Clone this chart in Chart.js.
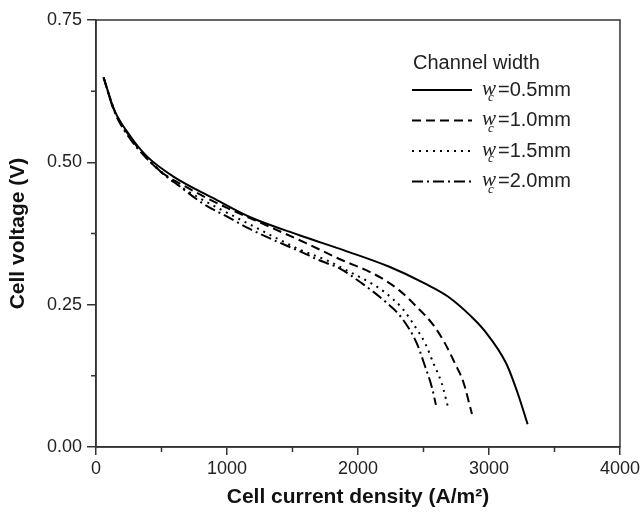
<!DOCTYPE html>
<html>
<head>
<meta charset="utf-8">
<script src="https://cdn.jsdelivr.net/npm/chart.js@4.4.1/dist/chart.umd.min.js"></script>
<style>
  html, body { margin: 0; padding: 0; background: #fff; }
  canvas { display: block; }
</style>
</head>
<body>
<canvas id="chart" width="643" height="512"></canvas>
<script>
// valores
const widths = ['0.5', '1.0', '1.5', '2.0'];

const current05 = [58, 139, 265, 391, 591, 896, 1174, 1553, 1900, 2235, 2513, 2689, 2866, 2967, 3131, 3220, 3295];
const voltage05 = [0.649, 0.592, 0.545, 0.510, 0.475, 0.437, 0.404, 0.372, 0.345, 0.317, 0.287, 0.264, 0.229, 0.204, 0.147, 0.094, 0.040];

const current10 = [58, 139, 265, 467, 694, 1000, 1225, 1604, 1880, 2058, 2184, 2311, 2449, 2576, 2664, 2740, 2803, 2870];
const voltage10 = [0.649, 0.592, 0.543, 0.489, 0.456, 0.420, 0.397, 0.358, 0.328, 0.311, 0.296, 0.276, 0.246, 0.214, 0.182, 0.147, 0.115, 0.058];

const current15 = [58, 139, 265, 568, 770, 1098, 1402, 1553, 1780, 1932, 2083, 2197, 2336, 2437, 2513, 2576, 2639, 2685];
const voltage15 = [0.649, 0.592, 0.541, 0.470, 0.440, 0.400, 0.364, 0.347, 0.326, 0.308, 0.290, 0.273, 0.244, 0.211, 0.182, 0.147, 0.112, 0.072];

const current20 = [58, 139, 265, 492, 644, 820, 998, 1174, 1351, 1553, 1705, 1856, 2033, 2210, 2336, 2449, 2513, 2563, 2595];
const voltage20 = [0.649, 0.590, 0.540, 0.484, 0.457, 0.427, 0.405, 0.383, 0.364, 0.344, 0.328, 0.314, 0.287, 0.255, 0.226, 0.182, 0.141, 0.106, 0.074];

const xMajor = [0, 1000, 2000, 3000, 4000];
const xMinor = [500, 1500, 2500, 3500];
const yMajor = [0, 0.25, 0.5, 0.75];
const yMinor = [0.125, 0.375, 0.625];

const dashes = [[], [9, 5], [2, 5], [11, 4, 2, 4]];

function pts(xs, ys) {
    return xs.map((x, i) => ({ x: x, y: ys[i] }));
}

const series = [
    pts(current05, voltage05),
    pts(current10, voltage10),
    pts(current15, voltage15),
    pts(current20, voltage20)
];

const sans = '"Liberation Sans", Arial, sans-serif';
const axisColor = '#333';

// marco, ticks menores y leyenda
const extras = {
    id: 'extras',
    afterDraw(chart) {
        const ctx = chart.ctx;
        const a = chart.chartArea;
        const xs = chart.scales.x;
        const ys = chart.scales.y;
        ctx.save();
        ctx.strokeStyle = axisColor;
        ctx.lineWidth = 1.5;
        ctx.strokeRect(a.left, a.top, a.right - a.left, a.bottom - a.top);
        ctx.beginPath();
        xMinor.forEach(v => {
            const px = xs.getPixelForValue(v);
            ctx.moveTo(px, a.bottom);
            ctx.lineTo(px, a.bottom + 5);
        });
        yMinor.forEach(v => {
            const py = ys.getPixelForValue(v);
            ctx.moveTo(a.left, py);
            ctx.lineTo(a.left - 5, py);
        });
        ctx.stroke();

        // leyenda
        const lx = 413;
        ctx.fillStyle = '#222';
        ctx.textBaseline = 'middle';
        ctx.textAlign = 'left';
        ctx.font = '20px ' + sans;
        ctx.fillText('Channel width', lx, 63);
        chart.data.datasets.forEach((ds, i) => {
            const y = 90 + i * 30.5;
            ctx.strokeStyle = '#000';
            ctx.lineWidth = 2;
            ctx.setLineDash(ds.borderDash);
            ctx.beginPath();
            ctx.moveTo(lx - 1, y);
            ctx.lineTo(lx + 59, y);
            ctx.stroke();
            ctx.setLineDash([]);
            ctx.font = 'italic 21px "Liberation Serif", serif';
            ctx.fillText('w', 482, y - 1);
            ctx.font = 'italic 13px "Liberation Serif", serif';
            ctx.fillText('c', 488, y + 8);
            ctx.font = '20px ' + sans;
            ctx.fillText('=' + widths[i] + 'mm', 498, y);
        });
        ctx.restore();
    }
};

const datasets = series.map((d, i) => ({
    label: 'wc=' + widths[i] + 'mm',
    data: d,
    showLine: true,
    borderColor: '#000',
    borderWidth: 2,
    borderDash: dashes[i],
    pointRadius: 0,
    cubicInterpolationMode: 'monotone',
    fill: false
}));

const chart = new Chart(document.getElementById('chart').getContext('2d'), {
    type: 'scatter',
    data: { datasets: datasets },
    options: {
        responsive: false,
        animation: false,
        layout: { padding: { top: 20, right: 20, left: 0, bottom: 0 } },
        plugins: { legend: { display: false }, tooltip: { enabled: false } },
        scales: {
            x: {
                type: 'linear',
                min: 0,
                max: 4000,
                afterBuildTicks: s => { s.ticks = xMajor.map(v => ({ value: v })); },
                afterFit: s => { s.height = 65; },
                ticks: {
                    color: '#222',
                    font: { family: sans, size: 18 },
                    padding: 3,
                    maxRotation: 0,
                    callback: v => String(v)
                },
                grid: { drawOnChartArea: false, drawTicks: true, tickLength: 8, color: axisColor, lineWidth: 1.5 },
                border: { display: true, color: axisColor, width: 1.5 },
                title: {
                    display: true,
                    text: 'Cell current density (A/m²)',
                    color: '#111',
                    font: { family: sans, size: 21, weight: 'bold' },
                    padding: { top: 0, bottom: 2 }
                }
            },
            y: {
                type: 'linear',
                min: 0,
                max: 0.75,
                afterBuildTicks: s => { s.ticks = yMajor.map(v => ({ value: v })); },
                afterFit: s => { s.width = 96; },
                ticks: {
                    color: '#222',
                    font: { family: sans, size: 18 },
                    padding: 5,
                    callback: v => v.toFixed(2)
                },
                grid: { drawOnChartArea: false, drawTicks: true, tickLength: 9, color: axisColor, lineWidth: 1.5 },
                border: { display: true, color: axisColor, width: 1.5 },
                title: {
                    display: true,
                    text: 'Cell voltage (V)',
                    color: '#111',
                    font: { family: sans, size: 21, weight: 'bold' },
                    padding: { top: 6, bottom: 0 }
                }
            }
        }
    },
    plugins: [extras]
});
</script>
</body>
</html>
